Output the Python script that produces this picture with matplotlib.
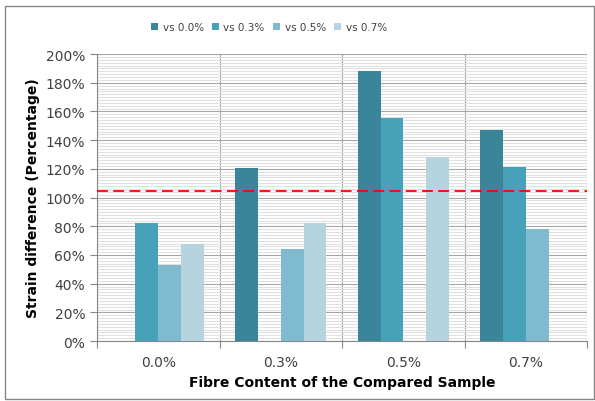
import numpy as np
import matplotlib.pyplot as plt
from matplotlib.patches import Rectangle
from matplotlib.ticker import MultipleLocator, FuncFormatter

# data (percent)
categories = ['0.0%', '0.3%', '0.5%', '0.7%']
series_names = ['vs 0.0%', 'vs 0.3%', 'vs 0.5%', 'vs 0.7%']
vs00 = [0, 120.6, 188.2, 147.1]
vs03 = [82.6, 0, 155.7, 121.6]
vs05 = [52.9, 64.3, 0, 78.2]
vs07 = [68.0, 82.1, 128.3, 0]
threshold = 104.5

colors = ['#3A8599', '#47A1B9', '#7FBACE', '#B5D4E0']

plt.rcParams['font.family'] = ['DejaVu Sans']

fig = plt.figure(figsize=(5.95, 4.02), dpi=100)
ax = fig.add_axes([0.163, 0.149, 0.824, 0.714])

# outer frame of the chart
fig.patches.append(Rectangle((0.008, 0.005), 0.99, 0.978, transform=fig.transFigure,
                             fill=False, edgecolor='#868686', linewidth=1.0))

index = np.arange(len(categories))
width = 0.186
for k, vals in enumerate([vs00, vs03, vs05, vs07]):
    ax.bar(index + (k - 1.5) * width, vals, width=width, color=colors[k],
           label=series_names[k], zorder=3)

ax.axhline(threshold, color='#FF0000', linestyle=(0, (6, 3)), linewidth=1.3, zorder=4)

ax.set_xlim(-0.5, 3.5)
ax.set_ylim(0, 200)

# y axis
ax.yaxis.set_major_locator(MultipleLocator(20))
ax.yaxis.set_minor_locator(MultipleLocator(2))
ax.yaxis.set_major_formatter(FuncFormatter(lambda v, p: '%d%%' % v))
ax.grid(axis='y', which='major', color='#A6A6A6', linewidth=0.8, zorder=0)
ax.grid(axis='y', which='minor', color='#E0E0E0', linewidth=0.8, zorder=0)
ax.tick_params(axis='y', which='major', length=5, color='#868686', labelsize=10,
               labelcolor='#404040', direction='out')
ax.tick_params(axis='y', which='minor', length=0)

# x axis: boundaries as major ticks, labels at centres
ax.set_xticks(np.arange(-0.5, 4.0, 1.0))
ax.set_xticklabels([])
ax.set_xticks(index, minor=True)
ax.set_xticklabels(categories, minor=True)
ax.grid(axis='x', which='major', color='#A6A6A6', linewidth=0.8, zorder=0)
ax.tick_params(axis='x', which='major', length=5, color='#868686', direction='out')
ax.tick_params(axis='x', which='minor', length=0, labelsize=10, labelcolor='#404040', pad=10)

for s in ['top', 'right']:
    ax.spines[s].set_visible(False)
for s in ['left', 'bottom']:
    ax.spines[s].set_color('#868686')

ax.set_xlabel('Fibre Content of the Compared Sample', fontsize=10, fontweight='bold', labelpad=4)
ax.set_ylabel('Strain difference (Percentage)', fontsize=10, fontweight='bold', labelpad=4)

ax.legend(loc='center', bbox_to_anchor=(0.452, 0.93), bbox_transform=fig.transFigure,
          ncol=4, frameon=False, fontsize=7.5, handlelength=0.7, handleheight=0.7,
          handletextpad=0.4, columnspacing=0.8, labelcolor='#404040')

plt.savefig('out.png', dpi=100)
